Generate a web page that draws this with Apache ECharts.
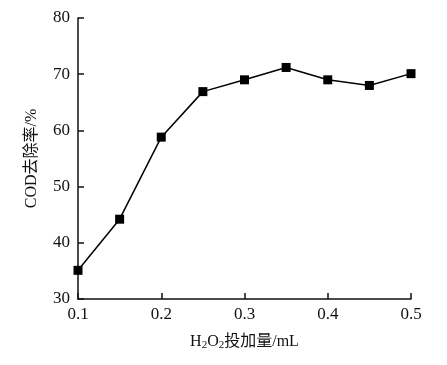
<!DOCTYPE html>
<html><head><meta charset="utf-8">
<script src="https://cdn.jsdelivr.net/npm/echarts@6/dist/echarts.min.js"></script>
<style>html,body{margin:0;padding:0;background:#fff}#c{width:447px;height:365px}</style>
</head><body><div id="c"></div>
<script>
const xValues = [0.1, 0.15, 0.2, 0.25, 0.3, 0.35, 0.4, 0.45, 0.5];
const codRemoval = [35.1, 44.2, 58.8, 66.9, 69.0, 71.2, 69.0, 68.0, 70.1];
const xTicks = [0.1, 0.2, 0.3, 0.4, 0.5];
const yTicks = [30, 40, 50, 60, 70, 80];

const font = '"Liberation Serif", "Times New Roman", "Noto Sans CJK SC", serif';
const chart = echarts.init(document.getElementById('c'));
chart.setOption({
  animation: false,
  backgroundColor: '#fff',
  grid: {left: 78, right: 36, top: 18, bottom: 66, containLabel: false},
  xAxis: {
    type: 'value', min: xTicks[0], max: xTicks[xTicks.length-1], interval: 0.1,
    name: '{t|H}{s|2}{t|O}{s|2}{t|投加量/mL}', nameLocation: 'middle', nameGap: 33,
    nameTextStyle: {rich: {
      t: {fontFamily: font, fontSize: 16, color: '#111'},
      s: {fontFamily: font, fontSize: 11, color: '#111', verticalAlign: 'bottom', padding: [8,0,0,0]}
    }},
    axisLine: {lineStyle: {color: '#111', width: 1.5}},
    axisTick: {inside: true, length: 6, lineStyle: {color: '#111', width: 1.5}},
    axisLabel: {fontFamily: font, fontSize: 17, color: '#111', margin: 7,
      formatter: v => (Math.round(v*10)/10).toFixed(1)},
    splitLine: {show: false}
  },
  yAxis: {
    type: 'value', min: yTicks[0], max: yTicks[yTicks.length-1], interval: 10,
    name: 'COD去除率/%', nameLocation: 'middle', nameGap: 38, nameRotate: 90,
    nameTextStyle: {fontFamily: font, fontSize: 16, color: '#111'},
    axisLine: {show: true, lineStyle: {color: '#111', width: 1.5}},
    axisTick: {show: true, inside: true, length: 6, lineStyle: {color: '#111', width: 1.5}},
    axisLabel: {fontFamily: font, fontSize: 17, color: '#111', margin: 8},
    splitLine: {show: false}
  },
  series: [{
    type: 'line',
    data: xValues.map((x, i) => [x, codRemoval[i]]),
    symbol: 'rect', symbolSize: 9,
    itemStyle: {color: '#000'},
    lineStyle: {color: '#000', width: 1.5}
  }]
});
</script></body></html>
